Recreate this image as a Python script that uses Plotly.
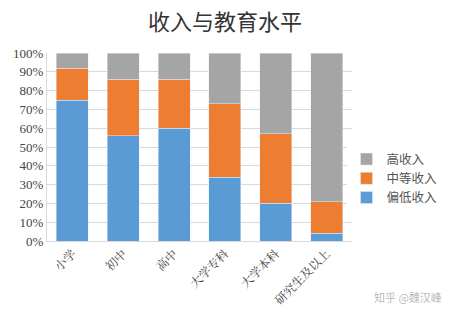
import plotly.graph_objects as go

categories = ["小学", "初中", "高中", "大学专科", "大学本科", "研究生及以上"]
low = [75, 56, 60, 34, 20, 4]
mid = [17, 30, 26, 39, 37, 17]
high = [8, 14, 14, 27, 43, 79]
yticks = [0, 10, 20, 30, 40, 50, 60, 70, 80, 90, 100]
ytext = [f"{v}%" for v in yticks]

fig = go.Figure()
fig.add_bar(x=categories, y=low, name="偏低收入", marker_color="#5B9BD5")
fig.add_bar(x=categories, y=mid, name="中等收入", marker_color="#ED7D31")
fig.add_bar(x=categories, y=high, name="高收入", marker_color="#A5A5A5")

fig.update_layout(
    width=450, height=321,
    barmode="stack", bargap=0.37,
    margin=dict(l=47, r=98, t=53, b=80, autoexpand=False),
    paper_bgcolor="white", plot_bgcolor="white",
    title=dict(text="收入与教育水平", x=0.5, xanchor="center", y=0.93, yanchor="middle",
               font=dict(family="Noto Sans CJK SC", size=22, color="#333333")),
    legend=dict(xref="container", yref="container", x=0.77, y=0.55,
                xanchor="left", yanchor="top", traceorder="reversed",
                font=dict(family="Noto Sans CJK SC", size=12.5, color="#555555"),
                itemwidth=30, tracegroupgap=0),
    showlegend=True,
)
fig.update_yaxes(range=[0, 100], tickvals=yticks, ticktext=ytext,
                 showgrid=True, gridcolor="#D9D9D9", gridwidth=1,
                 zeroline=False, showline=True, linecolor="#D9D9D9",
                 tickfont=dict(family="Liberation Serif", size=13, color="#444444"))
fig.update_xaxes(tickangle=-45, showline=True, linecolor="#D9D9D9",
                 tickfont=dict(family="Noto Serif CJK SC, Noto Sans CJK SC", size=12, color="#444444"))
fig.add_annotation(text="知乎 @魏汉峰", xref="paper", yref="paper", x=1.3, y=-0.3,
                   xanchor="right", yanchor="middle", showarrow=False,
                   font=dict(family="Noto Sans CJK SC", size=11, color="#BBBBBB"))

fig.write_html("out.html")
